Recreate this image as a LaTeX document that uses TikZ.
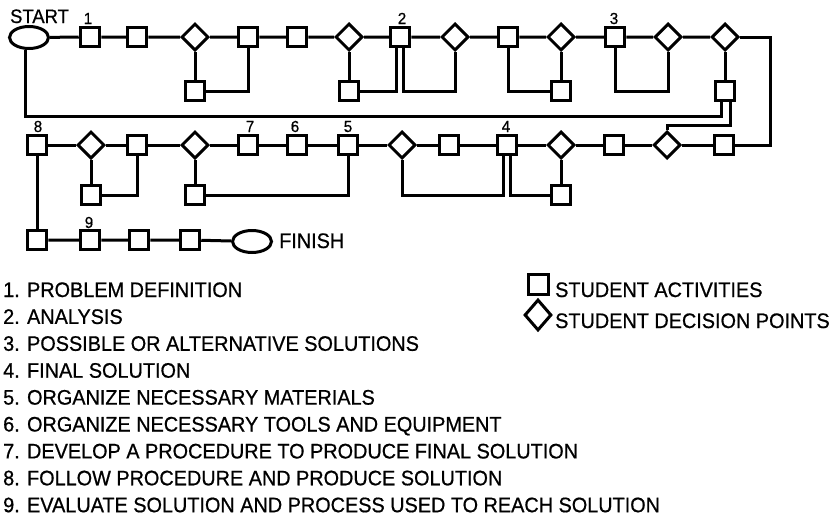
\documentclass[tikz,border=0pt]{standalone}
\usepackage{fontspec}
\newfontfamily\lf{Liberation Sans}[FakeStretch=0.945,FakeBold=0.7]
\usetikzlibrary{shapes.geometric,calc}
\begin{document}
\begin{tikzpicture}[x=1pt,y=-1pt,
 conn/.style={line width=3pt, line join=miter},
 act/.style={draw, line width=3pt, minimum size=19.5pt, inner sep=0pt, fill=white},
 dec/.style={draw, diamond, line width=3pt, minimum width=27pt, minimum height=27pt, inner sep=0pt, fill=white},
 term/.style={draw, ellipse, line width=3pt, minimum width=39pt, minimum height=22pt, inner sep=0pt},
 num/.style={font=\lf\fontsize{16}{16}\selectfont, inner sep=0pt, anchor=base},
 item/.style={font=\lf\fontsize{21}{21}\selectfont, inner sep=0pt, anchor=base west},
]
\useasboundingbox (0,0) rectangle (836,517);

% ---- top row
\node[term] (start) at (29,37.5) {};
\node[num] (lstart) at (39.5,23) {\fontsize{19.5}{19.5}\selectfont START};
\node[act] (t1) at (90,37) {};
\node[act] (t2) at (137,37) {};
\node[dec] (td1) at (195,37) {};
\node[act] (t3) at (248,37) {};
\node[act] (t4) at (297,37) {};
\node[dec] (td2) at (349,37) {};
\node[act] (t5) at (400,37) {};
\node[dec] (td3) at (455,37) {};
\node[act] (t6) at (508,37) {};
\node[dec] (td4) at (561,37) {};
\node[act] (t7) at (615,37) {};
\node[dec] (td5) at (668,37) {};
\node[dec] (td6) at (725,37) {};
\node[act] (b1) at (195,91) {};
\node[act] (b2) at (349,91) {};
\node[act] (b3) at (561,91) {};
\node[act] (b4) at (725,91) {};
\node[num] (n1) at (88,24) {1};
\node[num] (n2) at (402,24) {2};
\node[num] (n3) at (614,24) {3};

% ---- middle row
\node[act] (m1) at (37,145) {};
\node[dec] (md1) at (91,145) {};
\node[act] (m2) at (137,145) {};
\node[dec] (md2) at (195,145) {};
\node[act] (m3) at (248,145) {};
\node[act] (m4) at (297,145) {};
\node[act] (m5) at (348,145) {};
\node[dec] (md3) at (402,145) {};
\node[act] (m6) at (449,145) {};
\node[act] (m7) at (507,145) {};
\node[dec] (md4) at (561,145) {};
\node[act] (m8) at (614,145) {};
\node[dec] (md5) at (667,145) {};
\node[act] (m9) at (724,145) {};
\node[act] (c1) at (91,195) {};
\node[act] (c2) at (195,195) {};
\node[act] (c3) at (561,195) {};
\node[num] (n8) at (38,132) {8};
\node[num] (n7) at (250,132) {7};
\node[num] (n6) at (295,132) {6};
\node[num] (n5) at (348,132) {5};
\node[num] (n4) at (506,132) {4};

% ---- bottom row
\node[act] (f1) at (37,240) {};
\node[act] (f2) at (90,240) {};
\node[act] (f3) at (139,240) {};
\node[act] (f4) at (190,240) {};
\node[term] (finish) at (252,241.5) {};
\node[item] (lfinish) at (279,248) {FINISH};
\node[num] (n9) at (89,228) {9};

% ---- helper coordinates
\coordinate (rc) at (770,37);
\coordinate (fb) at (25,116);
\coordinate (t5L) at ($(t5.south)+(-3.5,0)$);
\coordinate (t5R) at ($(t5.south)+(3.5,0)$);
\coordinate (b4L) at ($(b4.south)+(-4,0)$);
\coordinate (b4R) at ($(b4.south)+(5,0)$);
\coordinate (m7L) at ($(m7.south)+(-3.5,0)$);
\coordinate (m7R) at ($(m7.south)+(3.5,0)$);
\coordinate (j2) at ($(md5.north)+(0,-5)$);

% ---- connectors top
\draw[conn] (start) -- (t1) -- (t2) -- (td1) -- (t3) -- (t4) -- (td2) -- (t5) -- (td3) -- (t6) -- (td4) -- (t7) -- (td5) -- (td6);
\draw[conn] (td1.south) -- (b1.north);
\draw[conn] (b1.east) -| (t3.south);
\draw[conn] (td2.south) -- (b2.north);
\draw[conn] (b2.east) -| (t5L);
\draw[conn] (t5R) |- (td3.south |- b2.east) -- (td3.south);
\draw[conn] (t6.south) |- (b3.west);
\draw[conn] (td4.south) -- (b3.north);
\draw[conn] (t7.south) |- (td5.south |- b4.east) -- (td5.south);
\draw[conn] (td6.south) -- (b4.north);
\draw[conn] (b4L) |- (fb) -- (start.south -| fb);
\draw[conn] (b4R) |- (j2) -- (md5.north);
\draw[conn] (td6.east) -- (rc) |- (m9.east);

% ---- connectors middle
\draw[conn] (m1) -- (md1) -- (m2) -- (md2) -- (m3) -- (m4) -- (m5) -- (md3) -- (m6) -- (m7) -- (md4) -- (m8) -- (md5) -- (m9);
\draw[conn] (md1.south) -- (c1.north);
\draw[conn] (c1.east) -| (m2.south);
\draw[conn] (md2.south) -- (c2.north);
\draw[conn] (c2.east) -| (m5.south);
\draw[conn] (md3.south) |- (m7L |- c3.west) -- (m7L);
\draw[conn] (m7R) |- (c3.west);
\draw[conn] (md4.south) -- (c3.north);

% ---- connectors bottom
\draw[conn] (m1.south) -- (f1.north);
\draw[conn] (f1) -- (f2) -- (f3) -- (f4) -- (finish);

% ---- list
\node[item] (i1) at (3,297) {1. PROBLEM DEFINITION};
\node[item] (i2) at (3,323.9) {2. ANALYSIS};
\node[item] (i3) at (3,350.8) {3. POSSIBLE OR ALTERNATIVE SOLUTIONS};
\node[item] (i4) at (3,377.7) {4. FINAL SOLUTION};
\node[item] (i5) at (3,404.6) {5. ORGANIZE NECESSARY MATERIALS};
\node[item] (i6) at (3,431.5) {6. ORGANIZE NECESSARY TOOLS AND EQUIPMENT};
\node[item] (i7) at (3,458.4) {7. DEVELOP A PROCEDURE TO PRODUCE FINAL SOLUTION};
\node[item] (i8) at (3,485.3) {8. FOLLOW PROCEDURE AND PRODUCE SOLUTION};
\node[item] (i9) at (3,512.2) {9. EVALUATE SOLUTION AND PROCESS USED TO REACH SOLUTION};

% ---- legend
\node[act, minimum size=20pt] (lga) at (538.5,284.5) {};
\node[dec, minimum width=27pt, minimum height=31pt] (lgd) at (538,315) {};
\node[item] (lta) at (555,297) {STUDENT ACTIVITIES};
\node[item] (ltd) at (555,328) {STUDENT DECISION POINTS};
\end{tikzpicture}
\end{document}
